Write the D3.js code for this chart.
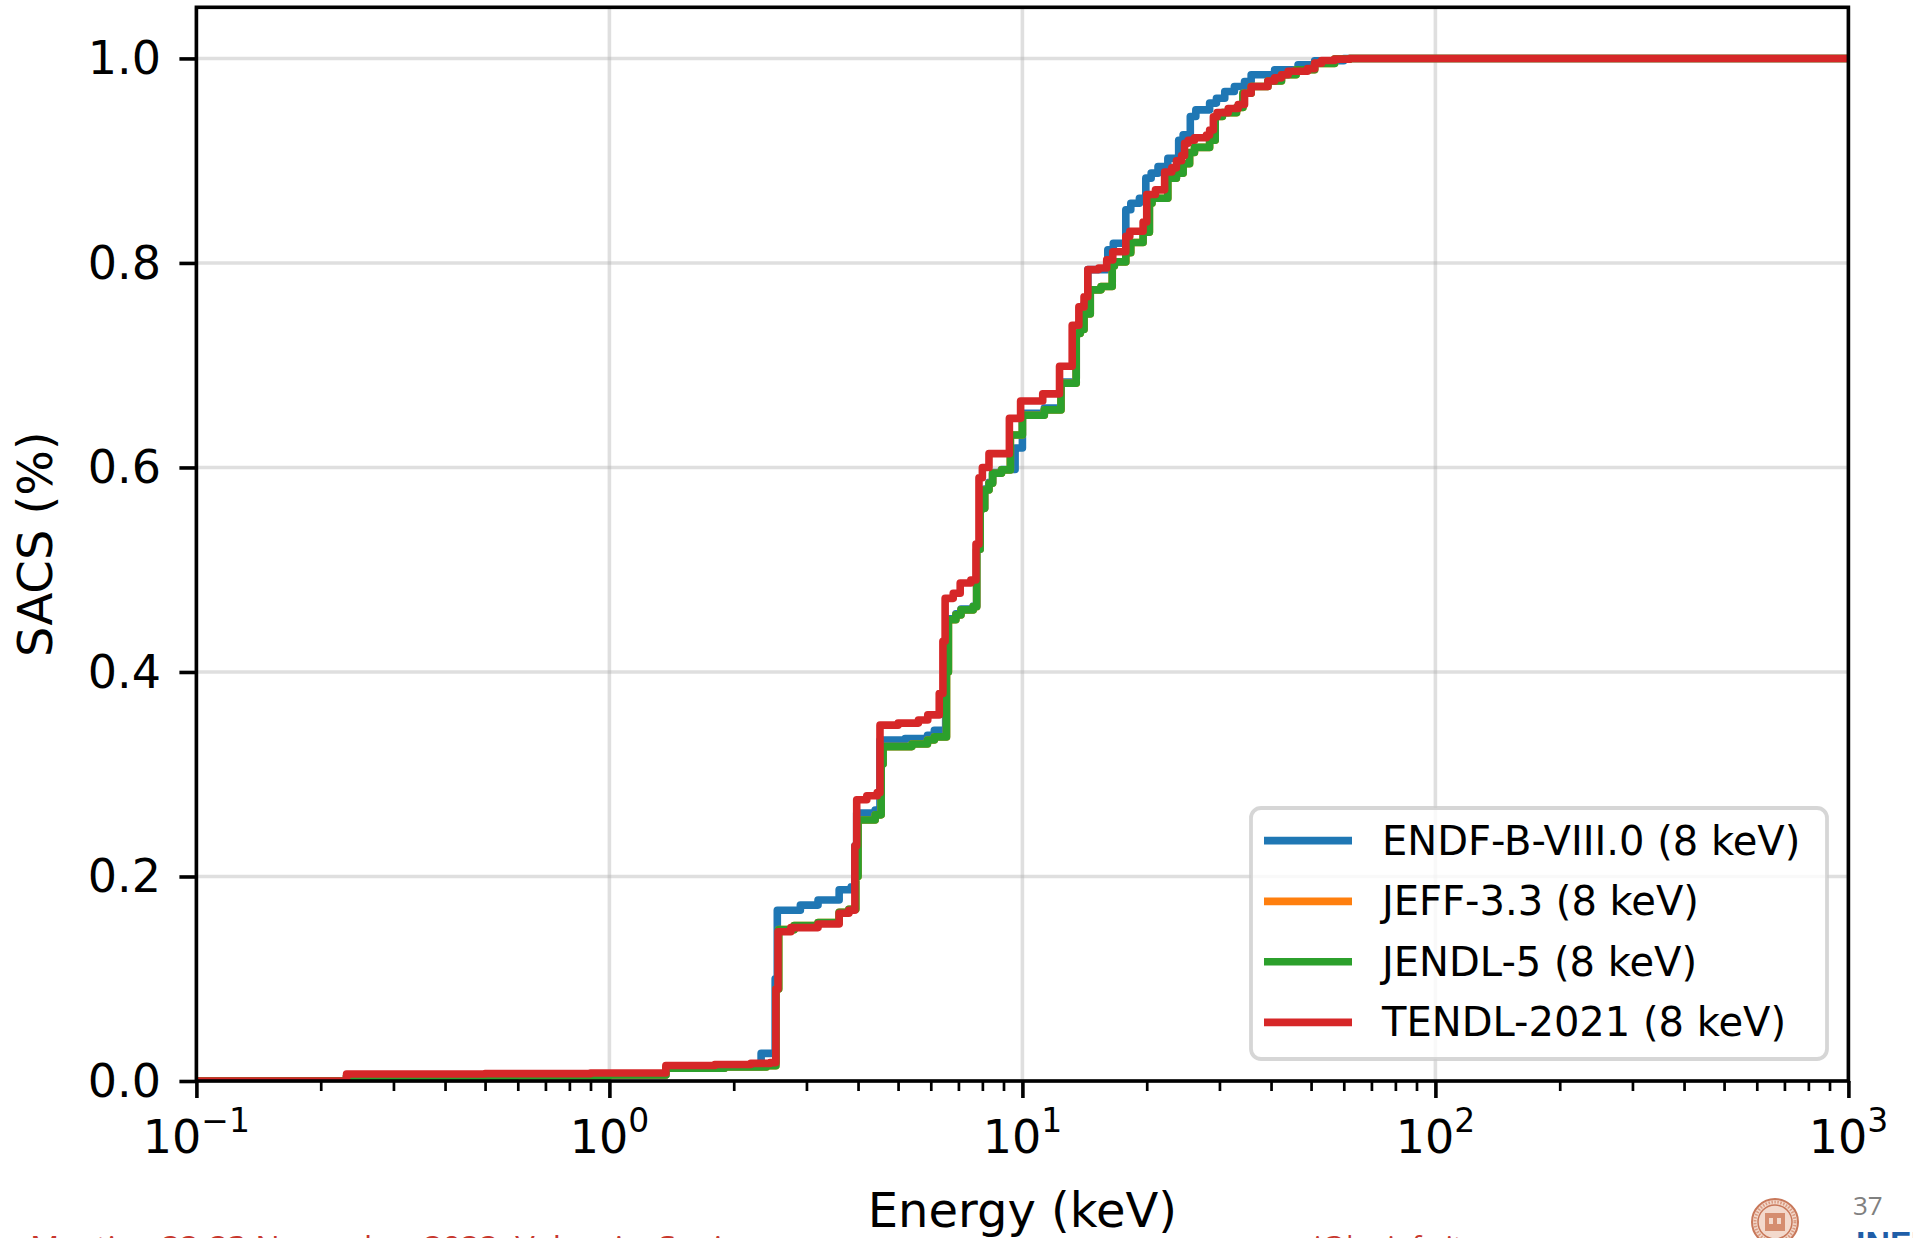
<!DOCTYPE html>
<html>
<head>
<meta charset="utf-8">
<script src="https://cdn.jsdelivr.net/npm/d3@7"></script>
<style>
  html, body { margin: 0; padding: 0; background: #ffffff; }
  svg { display: block; }
</style>
</head>
<body>
<svg id="chart" width="1913" height="1238"></svg>
<script>
// Cumulative spectrum-averaged capture cross section, step-after points [energy keV, fraction]
const endfb80 = [
  [0.1, 0.0], [0.231, 0.0048], [0.6, 0.0052], [1.0, 0.0058], [1.37, 0.0125], [1.9, 0.0140],
  [2.33, 0.027], [2.52, 0.10], [2.55, 0.167], [2.9, 0.172], [3.2, 0.177], [3.6, 0.187],
  [3.85, 0.190], [3.93, 0.23], [3.97, 0.262], [4.4, 0.265], [4.52, 0.3335], [5.2, 0.335],
  [5.89, 0.338], [6.12, 0.343], [6.52, 0.40], [6.6, 0.452], [6.9, 0.457], [7.1, 0.4615],
  [7.6, 0.4645], [7.75, 0.52], [7.9, 0.56], [8.1, 0.579], [8.3, 0.5855], [8.47, 0.595],
  [8.9, 0.598], [9.6, 0.619], [10.0, 0.653], [11.3, 0.658], [12.4, 0.6835], [13.5, 0.732],
  [13.8, 0.736], [14.1, 0.76], [14.4, 0.7935], [16.1, 0.8128], [16.6, 0.8193], [17.8, 0.852],
  [18.3, 0.8584], [19.2, 0.8633], [19.9, 0.8829], [20.5, 0.8878], [21.3, 0.8943], [22.5, 0.9024],
  [23.9, 0.920], [24.5, 0.9253], [25.5, 0.9432], [26.3, 0.9497], [28.4, 0.9563], [29.5, 0.9611],
  [30.9, 0.9677], [32.6, 0.9726], [34.5, 0.9775], [35.8, 0.984], [40.8, 0.9889], [46.5, 0.9937],
  [51.0, 0.9977], [60.0, 1.0], [1000, 1.0]
];

const jendl5 = [
  [0.1, 0.0], [0.231, 0.0048], [0.6, 0.0052], [1.0, 0.0058], [1.37, 0.0125], [1.9, 0.0138],
  [2.4, 0.0150], [2.53, 0.09], [2.57, 0.148], [2.8, 0.152], [3.2, 0.155], [3.6, 0.165],
  [3.8, 0.168], [3.95, 0.20], [4.0, 0.2553], [4.4, 0.2603], [4.55, 0.31], [4.6, 0.327],
  [5.4, 0.3295], [5.89, 0.3335], [6.12, 0.3365], [6.55, 0.40], [6.62, 0.451], [6.9, 0.4558],
  [7.1, 0.4607], [7.6, 0.4639], [7.75, 0.52], [7.9, 0.56], [8.1, 0.578], [8.3, 0.5846],
  [8.47, 0.5944], [8.9, 0.5976], [9.35, 0.6318], [10.0, 0.651], [11.3, 0.6563], [12.4, 0.6824],
  [13.5, 0.731], [13.8, 0.735], [14.1, 0.75], [14.6, 0.7737], [15.5, 0.777], [16.5, 0.797],
  [16.7, 0.801], [17.8, 0.81], [18.3, 0.82], [19.6, 0.83], [20.3, 0.8584], [20.6, 0.8633],
  [22.5, 0.8829], [23.6, 0.8878], [24.5, 0.897], [25.4, 0.908], [26.1, 0.913], [28.4, 0.920],
  [29.3, 0.9432], [30.5, 0.947], [33.0, 0.952], [34.2, 0.966], [35.8, 0.9726], [39.3, 0.978],
  [42.4, 0.984], [46.0, 0.989], [51.0, 0.995], [57.0, 0.9993], [62.0, 1.0], [1000, 1.0]
];

// JEFF-3.3 coincides with JENDL-5 over the whole range
const jeff33 = jendl5;

const tendl2021 = [
  [0.1, 0.0], [0.231, 0.0068], [0.5, 0.0072], [0.9, 0.0078], [1.37, 0.0152], [1.8, 0.0162],
  [2.2, 0.0172], [2.45, 0.0180], [2.53, 0.09], [2.56, 0.146], [2.75, 0.150], [3.2, 0.1535],
  [3.6, 0.164], [3.8, 0.167], [3.93, 0.23], [3.97, 0.275], [4.2, 0.279], [4.45, 0.282],
  [4.52, 0.348], [5.0, 0.350], [5.6, 0.353], [5.9, 0.358], [6.29, 0.379], [6.42, 0.43],
  [6.5, 0.472], [6.8, 0.477], [7.07, 0.487], [7.5, 0.490], [7.72, 0.525], [7.85, 0.59],
  [8.0, 0.600], [8.3, 0.6135], [9.3, 0.648], [9.9, 0.665], [11.2, 0.672], [12.3, 0.699],
  [13.2, 0.739], [13.7, 0.757], [14.1, 0.767], [14.4, 0.7935], [15.3, 0.795], [16.0, 0.803],
  [16.55, 0.811], [17.8, 0.826], [18.2, 0.831], [19.6, 0.840], [20.0, 0.867], [21.0, 0.8715],
  [22.1, 0.889], [23.0, 0.893], [23.6, 0.900], [24.3, 0.905], [24.7, 0.917], [25.2, 0.920],
  [26.1, 0.9225], [27.9, 0.925], [28.4, 0.930], [29.0, 0.943], [29.6, 0.947], [31.5, 0.951],
  [33.3, 0.955], [34.5, 0.966], [35.8, 0.9726], [39.3, 0.978], [40.8, 0.981], [42.4, 0.984],
  [44.0, 0.9875], [49.0, 0.990], [51.0, 0.9954], [53.0, 0.998], [57.0, 0.9993], [62.0, 1.0],
  [1000, 1.0]
];

const seriesNames = ["ENDF-B-VIII.0 (8 keV)", "JEFF-3.3 (8 keV)", "JENDL-5 (8 keV)", "TENDL-2021 (8 keV)"];
const seriesColors = ["#1f77b4", "#ff7f0e", "#2ca02c", "#d62728"];
const seriesData = [endfb80, jeff33, jendl5, tendl2021];

const xMajorTicks = [0.1, 1, 10, 100, 1000];
const xTickExponents = ["\u22121", "0", "1", "2", "3"];
const yTicks = [0.0, 0.2, 0.4, 0.6, 0.8, 1.0];
const yTickLabels = ["0.0", "0.2", "0.4", "0.6", "0.8", "1.0"];
const xLabel = "Energy (keV)";
const yLabel = "SACS (%)";

const footerEvent = "Meeting 22-23 November 2022, Valencia, Spain";
const footerMail = "i@bo.infn.it";
const pageNumber = "37";

// ---- layout ----
const plot = { left: 196.4, right: 1848.4, top: 7.3, bottom: 1081 };
const FONT = "DejaVu Sans, Verdana, sans-serif";

const svg = d3.select("#chart");
const x = d3.scaleLog().domain([0.1, 1000]).range([plot.left, plot.right]);
const y = d3.scaleLinear().domain([0, 1.05]).range([plot.bottom, plot.top]);

svg.append("rect").attr("width", 1913).attr("height", 1238).attr("fill", "#ffffff");

svg.append("defs").append("clipPath").attr("id", "plotClip")
  .append("rect")
  .attr("x", plot.left).attr("y", plot.top)
  .attr("width", plot.right - plot.left).attr("height", plot.bottom - plot.top);

// grid
const grid = svg.append("g");
grid.selectAll("line.gx").data(xMajorTicks).join("line")
  .attr("x1", d => x(d)).attr("x2", d => x(d))
  .attr("y1", plot.top).attr("y2", plot.bottom)
  .attr("stroke", "#b0b0b0").attr("stroke-opacity", 0.4).attr("stroke-width", 3.6);
grid.selectAll("line.gy").data(yTicks).join("line")
  .attr("x1", plot.left).attr("x2", plot.right)
  .attr("y1", d => y(d)).attr("y2", d => y(d))
  .attr("stroke", "#b0b0b0").attr("stroke-opacity", 0.4).attr("stroke-width", 3.6);

// curves
const line = d3.line()
  .x(d => x(d[0]))
  .y(d => y(d[1]))
  .curve(d3.curveStepAfter);

const curves = svg.append("g").attr("clip-path", "url(#plotClip)");
seriesData.forEach((data, i) => {
  curves.append("path")
    .datum(data)
    .attr("d", line)
    .attr("fill", "none")
    .attr("stroke", seriesColors[i])
    .attr("stroke-width", 7.6)
    .attr("stroke-linejoin", "round")
    .attr("stroke-linecap", "butt");
});

// axes
const xAxisMajor = d3.axisBottom(x).tickValues(xMajorTicks).tickSize(17).tickFormat("");
const minorValues = [];
for (let k = 0; k < xMajorTicks.length - 1; k++) {
  for (let m = 2; m <= 9; m++) minorValues.push(xMajorTicks[k] * m);
}
const xAxisMinor = d3.axisBottom(x).tickValues(minorValues).tickSize(10).tickFormat("");
const yAxis = d3.axisLeft(y).tickValues(yTicks).tickSize(17).tickFormat("");

function styleAxis(g, w) {
  g.select(".domain").remove();
  g.selectAll(".tick line").attr("stroke", "#000").attr("stroke-width", w);
}
svg.append("g").attr("transform", `translate(0,${plot.bottom})`).call(xAxisMajor).call(g => styleAxis(g, 3.6));
svg.append("g").attr("transform", `translate(0,${plot.bottom})`).call(xAxisMinor).call(g => styleAxis(g, 2.7));
svg.append("g").attr("transform", `translate(${plot.left},0)`).call(yAxis).call(g => styleAxis(g, 3.6));

// spines
svg.append("rect")
  .attr("x", plot.left).attr("y", plot.top)
  .attr("width", plot.right - plot.left).attr("height", plot.bottom - plot.top)
  .attr("fill", "none").attr("stroke", "#000").attr("stroke-width", 3.6);

// x tick labels: 10^n
xMajorTicks.forEach((v, i) => {
  const t = svg.append("text")
    .attr("x", x(v)).attr("y", 1153)
    .attr("text-anchor", "middle")
    .attr("font-family", FONT).attr("font-size", 46).attr("fill", "#000");
  t.append("tspan").text("10");
  t.append("tspan").attr("dy", -21).attr("font-size", 33).text(xTickExponents[i]);
});

// y tick labels
yTicks.forEach((v, i) => {
  svg.append("text")
    .attr("x", 161).attr("y", y(v))
    .attr("text-anchor", "end").attr("dominant-baseline", "central")
    .attr("font-family", FONT).attr("font-size", 46).attr("fill", "#000")
    .text(yTickLabels[i]);
});

// axis titles
svg.append("text")
  .attr("x", (plot.left + plot.right) / 2).attr("y", 1227)
  .attr("text-anchor", "middle")
  .attr("font-family", FONT).attr("font-size", 48).attr("fill", "#000")
  .text(xLabel);
svg.append("text")
  .attr("transform", `translate(52,${(plot.top + plot.bottom) / 2}) rotate(-90)`)
  .attr("text-anchor", "middle")
  .attr("font-family", FONT).attr("font-size", 48).attr("fill", "#000")
  .text(yLabel);

// legend
const legend = svg.append("g");
legend.append("rect")
  .attr("x", 1251).attr("y", 808).attr("width", 576).attr("height", 251)
  .attr("rx", 10).attr("ry", 10)
  .attr("fill", "#ffffff").attr("fill-opacity", 0.8)
  .attr("stroke", "#cccccc").attr("stroke-opacity", 0.8).attr("stroke-width", 3.8);
const rowY = [840.6, 901.4, 961.8, 1022.4];
seriesNames.forEach((name, i) => {
  legend.append("line")
    .attr("x1", 1264).attr("x2", 1352)
    .attr("y1", rowY[i]).attr("y2", rowY[i])
    .attr("stroke", seriesColors[i]).attr("stroke-width", 7.6);
  legend.append("text")
    .attr("x", 1382).attr("y", rowY[i])
    .attr("dominant-baseline", "central")
    .attr("font-family", FONT).attr("font-size", 40).attr("fill", "#000")
    .text(name);
});

// slide footer (runs off the bottom edge of the page)
const footer = svg.append("g");
footer.append("text")
  .attr("x", 30).attr("y", 1256)
  .attr("font-family", "Open Sans, Liberation Sans, sans-serif").attr("font-size", 28)
  .attr("fill", "#c8372d")
  .attr("textLength", 712).attr("lengthAdjust", "spacingAndGlyphs")
  .text(footerEvent);
footer.append("text")
  .attr("x", 1314).attr("y", 1256)
  .attr("font-family", "Open Sans, Liberation Sans, sans-serif").attr("font-size", 28)
  .attr("fill", "#c8372d")
  .text(footerMail);
footer.append("text")
  .attr("x", 1853).attr("y", 1215)
  .attr("font-family", "Open Sans, Liberation Sans, sans-serif").attr("font-size", 26)
  .attr("fill", "#808080")
  .text(pageNumber);
footer.append("text")
  .attr("x", 1856).attr("y", 1255)
  .attr("font-family", "Liberation Sans, Arial, sans-serif").attr("font-size", 34)
  .attr("font-weight", "bold").attr("fill", "#1f5ea8")
  .text("INFN");

// university seal
const seal = footer.append("g").attr("transform", "translate(1775,1222)");
seal.append("circle").attr("r", 23).attr("fill", "#f3d9cc").attr("stroke", "#c8785a").attr("stroke-width", 2);
seal.append("circle").attr("r", 17).attr("fill", "none").attr("stroke", "#c8785a").attr("stroke-width", 1.5);
seal.append("circle").attr("r", 20).attr("fill", "none").attr("stroke", "#d99a80").attr("stroke-width", 3).attr("stroke-dasharray", "1.5 1.5");
seal.append("rect").attr("x", -10).attr("y", -9).attr("width", 20).attr("height", 18).attr("fill", "#d58d6f");
seal.append("rect").attr("x", -6).attr("y", -4).attr("width", 4).attr("height", 6).attr("fill", "#f3d9cc");
seal.append("rect").attr("x", 2).attr("y", -4).attr("width", 4).attr("height", 6).attr("fill", "#f3d9cc");
</script>
</body>
</html>
